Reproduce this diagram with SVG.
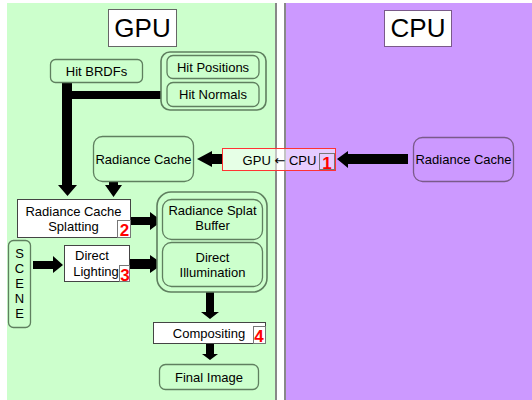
<svg xmlns="http://www.w3.org/2000/svg" width="532" height="400" viewBox="0 0 532 400">
<style>
text{font-family:"Liberation Sans",Arial,sans-serif;font-size:13px;fill:#000;text-anchor:middle}
.title{font-size:26px}
.num{font-size:17px;font-weight:bold;fill:#ff0000}
.sym{font-family:"DejaVu Sans",sans-serif;font-size:13px}
.gnode{fill:#ccffcc;stroke:#5f7f5f;stroke-width:1.3}
.gouter{fill:#ccffcc;stroke:#5f7f5f;stroke-width:1.6}
.pnode{fill:#cc99ff;stroke:#7a5a8a;stroke-width:1.3}
.wnode{fill:#ffffff;stroke:#444444;stroke-width:1}
.nbox{fill:none;stroke:#777777;stroke-width:1}
.tbox{fill:#ffffff;stroke:#666666;stroke-width:1}
.arrow{fill:#000000;stroke:none}
</style>
<rect x="0" y="0" width="532" height="400" fill="#ffffff"/>
<g id="panels">
<rect x="7" y="3" width="270" height="397" fill="#ccffcc"/>
<rect x="275" y="3" width="2" height="397" fill="#888888"/>
<rect x="284" y="3" width="248" height="397" fill="#cc99ff"/>
<rect x="284" y="3" width="2" height="397" fill="#888888"/>
</g>
<g id="gpu-title"><rect class="tbox" x="108.5" y="9.5" width="68" height="37"/><text class="title" x="142.5" y="37">GPU</text></g>
<g id="cpu-title"><rect class="tbox" x="384.5" y="10.5" width="67" height="36" style="stroke:#7a5a8a"/><text class="title" x="418" y="37">CPU</text></g>
<g id="connectors">
<path class="arrow" d="M62,83 H72 V91 H161 V99 H72 V185 H77 L67.5,196 L58,185 H62 Z"/>
<path class="arrow" d="M109,182 H118 V185 H122 L113.5,197 L105,185 H109 Z"/>
<path class="arrow" d="M222,154 V164 H212 V167 L197,159 L212,151 V154 Z"/>
<path class="arrow" d="M408,154 V164 H348 V168 L337,159 L348,151 V154 Z"/>
<path class="arrow" d="M131,217 H150 V212 L162,221 L150,230 V225 H131 Z"/>
<path class="arrow" d="M33,261 H53 V256 L63,265 L53,273 V269 H33 Z"/>
<path class="arrow" d="M130,259 H150 V255 L163,264 L150,273 V269 H130 Z"/>
<path class="arrow" d="M206,292 H214 V312 H219 L210,319 L201,312 H206 Z"/>
<path class="arrow" d="M206,344 H214 V354 H218 L210,360 L202,354 H206 Z"/>
</g>
<g id="hit-brdfs"><rect class="gnode" x="50.5" y="59.5" width="92" height="23" rx="5"/><text x="96.5" y="76">Hit BRDFs</text></g>
<g id="hit-group"><rect class="gouter" x="161" y="52" width="105" height="58" rx="9"/>
<g id="hit-positions"><rect class="gnode" x="167" y="55.5" width="92" height="23" rx="6"/><text x="213" y="72">Hit Positions</text></g>
<g id="hit-normals"><rect class="gnode" x="167" y="82.5" width="92" height="24" rx="6"/><text x="213" y="99">Hit Normals</text></g>
</g>
<g id="gpu-radiance-cache"><rect class="gnode" x="93.5" y="136.5" width="100" height="45" rx="9"/><text x="143.5" y="164">Radiance Cache</text></g>
<g id="transfer"><rect x="222.5" y="148.5" width="113" height="22" fill="#ffffff" fill-opacity="0.5" stroke="#ff3333" stroke-width="1"/><text x="279.5" y="165">GPU <tspan class="sym">←</tspan> CPU</text><rect class="nbox" x="319.5" y="153.5" width="15" height="16"/><text class="num" x="327" y="169">1</text></g>
<g id="cpu-radiance-cache"><rect class="pnode" x="413.5" y="137.5" width="100" height="44" rx="9"/><text x="463.5" y="164">Radiance Cache</text></g>
<g id="splatting"><rect class="wnode" x="17.5" y="199.5" width="113" height="38"/><text x="73.5" y="216">Radiance Cache</text><text x="73.5" y="231">Splatting</text><rect class="nbox" x="117.5" y="220.5" width="13" height="17"/><text class="num" x="124.5" y="235.5">2</text></g>
<g id="splat-group"><rect class="gouter" x="157" y="192" width="110" height="100" rx="14"/>
<g id="splat-buffer"><rect class="gnode" x="162.5" y="199.5" width="100" height="40" rx="9"/><text x="212.5" y="215">Radiance Splat</text><text x="212.5" y="230">Buffer</text></g>
<g id="direct-illumination"><rect class="gnode" x="162.5" y="242.5" width="100" height="44" rx="9"/><text x="212.5" y="262">Direct</text><text x="212.5" y="277">Illumination</text></g>
</g>
<g id="scene"><rect class="gnode" x="8.5" y="240.5" width="22" height="87" rx="5"/><text x="19.5" y="258">S</text><text x="19.5" y="273">C</text><text x="19.5" y="288">E</text><text x="19.5" y="303">N</text><text x="19.5" y="318">E</text></g>
<g id="direct-lighting"><rect class="wnode" x="64.5" y="245.5" width="65" height="36"/><text x="92" y="260">Direct</text><text x="96" y="275.5">Lighting</text><rect class="nbox" x="119.5" y="265.5" width="10" height="16"/><text class="num" x="125" y="281">3</text></g>
<g id="compositing"><rect class="wnode" x="153.5" y="322.5" width="112" height="21"/><text x="209" y="338">Compositing</text><rect class="nbox" x="253.5" y="326.5" width="12" height="17"/><text class="num" x="259" y="342">4</text></g>
<g id="final-image"><rect class="gnode" x="159.5" y="364.5" width="99" height="25" rx="6"/><text x="209" y="382">Final Image</text></g>
</svg>
